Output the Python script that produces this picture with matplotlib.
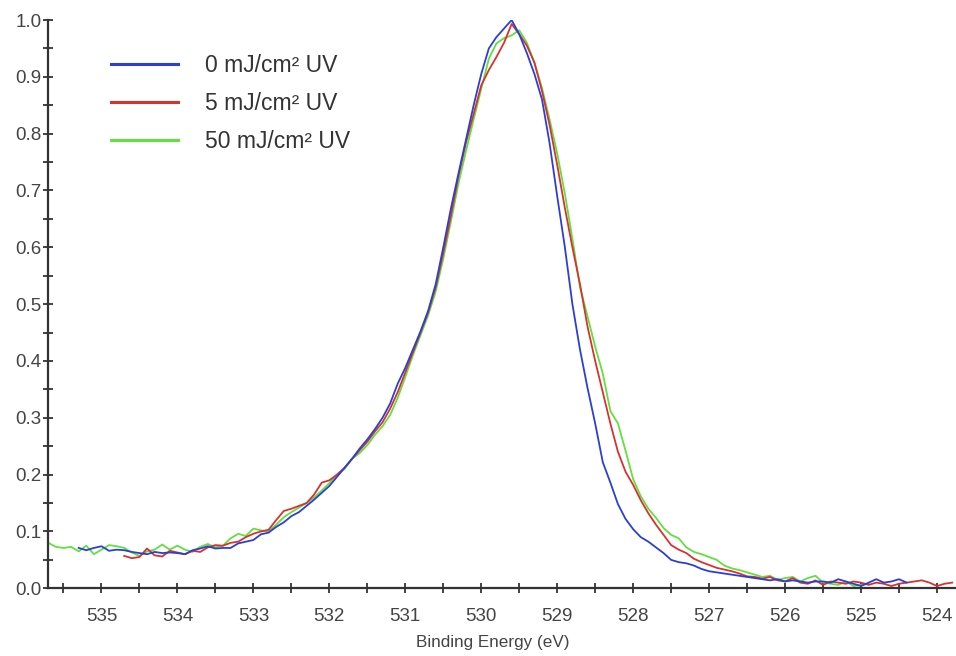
import numpy as np
import matplotlib
matplotlib.use("Agg")
import matplotlib.pyplot as plt
from matplotlib.ticker import MultipleLocator

# ---- data ----
labels = ["0 mJ/cm\u00b2 UV", "5 mJ/cm\u00b2 UV", "50 mJ/cm\u00b2 UV"]
colors = ["#2b3ed8", "#d9322e", "#62e03e"]

# binding energy grids (eV), 0.1 eV steps
e_blue = np.round(np.arange(535.3, 524.35, -0.1), 2)
e_red = np.round(np.arange(534.7, 523.75, -0.1), 2)
e_green = np.round(np.arange(535.7, 524.85, -0.1), 2)

blue = [
    0.071, 0.067, 0.071, 0.074, 0.066, 0.068, 0.067, 0.064, 0.062, 0.060,
    0.064, 0.062, 0.063, 0.062, 0.060, 0.067, 0.070, 0.074, 0.070, 0.071,
    0.071, 0.079, 0.082, 0.085, 0.095, 0.098, 0.108, 0.116, 0.127, 0.134,
    0.145, 0.156, 0.168, 0.180, 0.196, 0.212, 0.228, 0.246, 0.262, 0.280,
    0.300, 0.325, 0.360, 0.388, 0.420, 0.452, 0.488, 0.535, 0.600, 0.668,
    0.730, 0.790, 0.850, 0.905, 0.950, 0.970, 0.985, 1.000, 0.975, 0.942,
    0.905, 0.860, 0.783, 0.690, 0.601, 0.500, 0.420, 0.352, 0.290, 0.222,
    0.186, 0.148, 0.122, 0.104, 0.090, 0.082, 0.072, 0.062, 0.050, 0.046,
    0.044, 0.040, 0.034, 0.030, 0.028, 0.026, 0.024, 0.022, 0.020, 0.018,
    0.016, 0.014, 0.016, 0.012, 0.014, 0.012, 0.010, 0.012, 0.012, 0.010,
    0.016, 0.012, 0.008, 0.004, 0.010, 0.016, 0.010, 0.012, 0.016, 0.010,
]

red = [
    0.057, 0.053, 0.055, 0.070, 0.058, 0.056, 0.066, 0.063, 0.060, 0.066,
    0.064, 0.072, 0.076, 0.075, 0.080, 0.082, 0.090, 0.096, 0.100, 0.103,
    0.120, 0.136, 0.140, 0.145, 0.150, 0.165, 0.186, 0.190, 0.200, 0.212,
    0.228, 0.243, 0.258, 0.276, 0.292, 0.316, 0.345, 0.380, 0.415, 0.450,
    0.485, 0.530, 0.590, 0.655, 0.725, 0.785, 0.835, 0.885, 0.912, 0.935,
    0.960, 0.993, 0.975, 0.955, 0.925, 0.875, 0.815, 0.745, 0.670, 0.600,
    0.535, 0.460, 0.400, 0.345, 0.290, 0.240, 0.205, 0.182, 0.155, 0.132,
    0.112, 0.094, 0.076, 0.068, 0.062, 0.052, 0.046, 0.041, 0.036, 0.033,
    0.030, 0.026, 0.021, 0.020, 0.017, 0.020, 0.014, 0.012, 0.018, 0.010,
    0.008, 0.014, 0.006, 0.012, 0.010, 0.008, 0.012, 0.010, 0.006, 0.010,
    0.008, 0.004, 0.008, 0.010, 0.012, 0.014, 0.010, 0.004, 0.008, 0.010,
]

green = [
    0.080, 0.073, 0.071, 0.073, 0.065, 0.075, 0.060, 0.068, 0.076, 0.074,
    0.071, 0.063, 0.057, 0.065, 0.068, 0.077, 0.068, 0.075, 0.068, 0.064,
    0.073, 0.078, 0.072, 0.075, 0.088, 0.096, 0.092, 0.105, 0.102, 0.100,
    0.112, 0.125, 0.134, 0.142, 0.150, 0.160, 0.172, 0.185, 0.200, 0.210,
    0.228, 0.238, 0.252, 0.270, 0.285, 0.305, 0.335, 0.372, 0.410, 0.445,
    0.480, 0.522, 0.580, 0.645, 0.712, 0.770, 0.825, 0.879, 0.932, 0.959,
    0.968, 0.973, 0.982, 0.960, 0.925, 0.880, 0.825, 0.765, 0.695, 0.615,
    0.530, 0.478, 0.425, 0.378, 0.312, 0.290, 0.242, 0.192, 0.162, 0.140,
    0.124, 0.106, 0.094, 0.088, 0.072, 0.064, 0.060, 0.055, 0.050, 0.040,
    0.035, 0.032, 0.028, 0.024, 0.020, 0.022, 0.015, 0.018, 0.020, 0.012,
    0.018, 0.022, 0.010, 0.008, 0.006, 0.012, 0.004, 0.006, 0.008,
]

xticks = [535, 534, 533, 532, 531, 530, 529, 528, 527, 526, 525, 524]
yticks = [0.0, 0.1, 0.2, 0.3, 0.4, 0.5, 0.6, 0.7, 0.8, 0.9, 1.0]

# ---- figure ----
plt.rcParams["font.family"] = ["Liberation Sans", "DejaVu Sans"]
fig = plt.figure(figsize=(9.56, 6.56), dpi=100)
ax = fig.add_axes([0.0505, 0.1032, 0.9495, 0.8663])

series = [(e_blue, blue), (e_red, red), (e_green, green)]
handles = []
for (e, v), c, lab in zip(series, colors, labels):
    h, = ax.plot(e, v, color=c, lw=1.3, label=lab)
    handles.append(h)
# draw order: green under, blue on top
handles[2].set_zorder(2)
handles[1].set_zorder(2.1)
handles[0].set_zorder(2.2)

ax.set_xlim(535.7, 523.75)
ax.set_ylim(0.0, 1.0)
ax.set_xticks(xticks)
ax.set_yticks(yticks)
ax.set_xticklabels([str(t) for t in xticks])
ax.set_yticklabels([f"{t:.1f}" for t in yticks])
ax.xaxis.set_minor_locator(MultipleLocator(0.5))
ax.yaxis.set_minor_locator(MultipleLocator(0.05))

axcol = "#333333"
txtcol = "#444444"
for s in ["top", "right"]:
    ax.spines[s].set_visible(False)
for s in ["left", "bottom"]:
    ax.spines[s].set_color(axcol)
    ax.spines[s].set_linewidth(1.6)

ax.tick_params(which="both", direction="inout", length=7, width=1.3,
               color=axcol, labelcolor=txtcol, labelsize=13.5)
ax.tick_params(axis="x", which="major", pad=11)
ax.tick_params(axis="y", which="major", pad=1.5)

ax.set_xlabel("Binding Energy (eV)", fontsize=12.3, color=txtcol)
ax.xaxis.set_label_coords(0.49, -0.083)

leg = ax.legend(handles=handles, loc="upper left",
                bbox_to_anchor=(0.059, 0.956), frameon=False,
                fontsize=16.5, handlelength=2.93, handletextpad=1.18,
                labelspacing=0.655, borderaxespad=0)
for t in leg.get_texts():
    t.set_color("#333333")
for l in leg.get_lines():
    l.set_linewidth(2.2)

fig.savefig("out.png", dpi=100)
